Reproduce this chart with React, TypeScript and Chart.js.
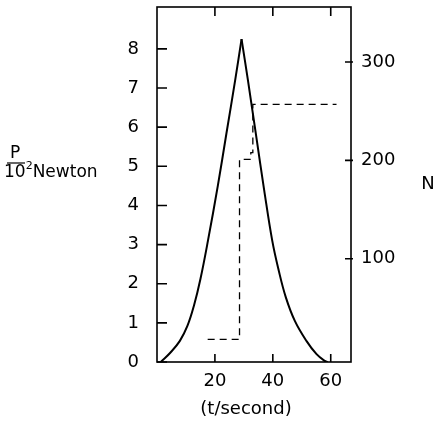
import React, { useEffect, useRef } from "react";
import { Chart, registerables } from "chart.js";

Chart.register(...registerables);

// Force P (10^2 Newton) vs time t (second): rising and falling flanks (both share the peak)
const pRiseTime = [1.3, 4.5, 7.9, 10.5, 12.8, 15, 17.6, 21, 24, 27, 29.2];
const pRiseValues = [0, 0.23, 0.54, 0.92, 1.45, 2.12, 3.1, 4.5, 5.85, 7.2, 8.25];
const pFallTime = [29.2, 31.4, 34.4, 37, 39.8, 42, 44.5, 47.6, 51.6, 55.1, 57.9, 59];
const pFallValues = [8.25, 7.2, 5.7, 4.4, 3.1, 2.35, 1.65, 1.05, 0.54, 0.2, 0.03, 0];

// N (right axis) step curve vs time
const nTime = [17.5, 28.5, 28.5, 32.4, 32.4, 33.1, 33.1, 62];
const nValues = [18, 18, 201, 201, 208, 208, 257, 257];

// tick labels
const xTicks = [20, 40, 60];
const leftTicks = [0, 1, 2, 3, 4, 5, 6, 7, 8];
const rightTicks = [100, 200, 300];

const FONT = "'DejaVu Sans', sans-serif";

const framePlugin = {
  id: "frame",
  afterDraw(chart: any) {
    const ctx = chart.ctx;
    const a = chart.chartArea;
    const x = chart.scales.x;
    const y = chart.scales.y;
    const y2 = chart.scales.y2;
    ctx.save();
    ctx.strokeStyle = "#000";
    ctx.lineWidth = 1.6;
    ctx.strokeRect(a.left, a.top, a.right - a.left, a.bottom - a.top);
    ctx.beginPath();
    leftTicks.forEach((v) => {
      const py = y.getPixelForValue(v);
      ctx.moveTo(a.left, py);
      ctx.lineTo(a.left + 10, py);
    });
    rightTicks.forEach((v) => {
      const py = y2.getPixelForValue(v);
      ctx.moveTo(a.right - 6, py);
      ctx.lineTo(a.right + 2, py);
    });
    xTicks.forEach((v) => {
      const px = x.getPixelForValue(v);
      ctx.moveTo(px, a.bottom);
      ctx.lineTo(px, a.bottom - 8);
      ctx.moveTo(px, a.top);
      ctx.lineTo(px, a.top + 9);
    });
    ctx.stroke();

    // axis titles
    ctx.fillStyle = "#000";
    ctx.textBaseline = "middle";
    ctx.font = `18px ${FONT}`;
    ctx.textAlign = "center";
    ctx.fillText("(t/second)", 246, 409);
    ctx.fillText("N", 428, 184);
    // left title: P over 10^2 Newton
    ctx.textAlign = "left";
    ctx.font = `17px ${FONT}`;
    ctx.fillText("P", 10, 154);
    ctx.beginPath();
    ctx.lineWidth = 1.2;
    ctx.moveTo(7, 163);
    ctx.lineTo(25, 163);
    ctx.stroke();
    ctx.fillText("10", 4, 173);
    const w10 = ctx.measureText("10").width;
    ctx.font = `11px ${FONT}`;
    ctx.fillText("2", 4 + w10, 166);
    const w2 = ctx.measureText("2").width;
    ctx.font = `17px ${FONT}`;
    ctx.fillText("Newton", 4 + w10 + w2, 173);
    ctx.restore();
  },
};

const noPad = (s: any) => {
  s.paddingTop = 0;
  s.paddingBottom = 0;
  s.paddingLeft = 0;
  s.paddingRight = 0;
};

export default function App() {
  const ref = useRef<HTMLCanvasElement>(null);
  useEffect(() => {
    const pStyle = {
      showLine: true,
      borderColor: "#000",
      borderWidth: 2,
      pointRadius: 0,
      tension: 0.4,
      yAxisID: "y",
    };
    const chart = new Chart(ref.current as HTMLCanvasElement, {
      type: "scatter",
      data: {
        datasets: [
          { label: "P rise", data: pRiseTime.map((t, i) => ({ x: t, y: pRiseValues[i] })), ...pStyle },
          { label: "P fall", data: pFallTime.map((t, i) => ({ x: t, y: pFallValues[i] })), ...pStyle },
          {
            label: "N",
            data: nTime.map((t, i) => ({ x: t, y: nValues[i] })),
            showLine: true,
            borderColor: "#000",
            borderWidth: 1.3,
            borderDash: [7, 5],
            pointRadius: 0,
            tension: 0,
            yAxisID: "y2",
          },
        ],
      },
      options: {
        responsive: false,
        animation: false,
        layout: { padding: { top: 7, left: 0, right: 0, bottom: 0 } },
        plugins: { legend: { display: false }, tooltip: { enabled: false } },
        scales: {
          x: {
            type: "linear",
            min: 0,
            max: 67,
            grid: { display: false, drawTicks: false },
            border: { display: false },
            afterBuildTicks: (s: any) => {
              s.ticks = xTicks.map((v) => ({ value: v }));
            },
            afterFit: (s: any) => {
              s.height = 62;
              noPad(s);
            },
            ticks: { color: "#000", font: { family: FONT, size: 18 }, padding: 9, maxRotation: 0 },
          },
          y: {
            type: "linear",
            position: "left",
            min: 0,
            max: 9.07,
            grid: { display: false, drawTicks: false },
            border: { display: false },
            afterBuildTicks: (s: any) => {
              s.ticks = leftTicks.map((v) => ({ value: v }));
            },
            afterFit: (s: any) => {
              s.width = 157;
              noPad(s);
            },
            ticks: { color: "#000", font: { family: FONT, size: 18 }, padding: 18 },
          },
          y2: {
            type: "linear",
            position: "right",
            min: -5,
            max: 356,
            grid: { display: false, drawTicks: false },
            border: { display: false },
            afterBuildTicks: (s: any) => {
              s.ticks = rightTicks.map((v) => ({ value: v }));
            },
            afterFit: (s: any) => {
              s.width = 86;
              noPad(s);
            },
            ticks: { color: "#000", font: { family: FONT, size: 18 }, padding: 10 },
          },
        },
      },
      plugins: [framePlugin],
    });
    return () => chart.destroy();
  }, []);
  return (
    <div style={{ position: "absolute", left: 0, top: 0, width: 437, height: 424, background: "#fff" }}>
      <canvas ref={ref} width={437} height={424} />
    </div>
  );
}
